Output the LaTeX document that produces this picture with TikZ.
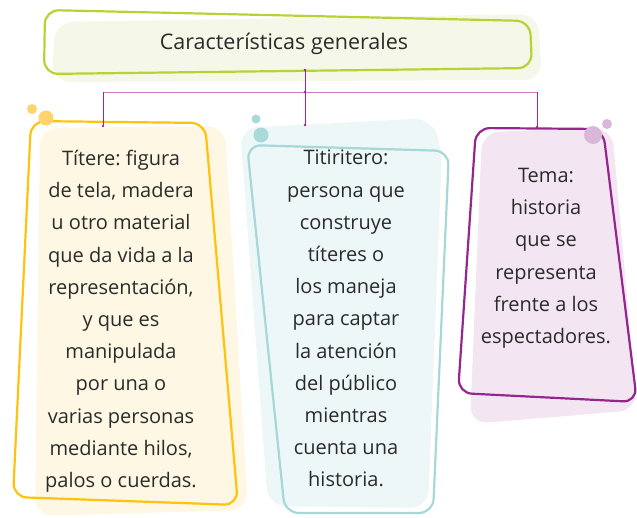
\documentclass[tikz,border=0pt]{standalone}
\usepackage{fontspec}
\setmainfont{Open Sans}
\frenchspacing
\definecolor{ttlline}{HTML}{B5D334}
\definecolor{ttlfill}{HTML}{F5F8E8}
\definecolor{yline}{HTML}{FFC20E}
\definecolor{yfill}{HTML}{FDF7E4}
\definecolor{ydot}{HTML}{FFD46A}
\definecolor{tline}{HTML}{A6D8D8}
\definecolor{tfill}{HTML}{EDF7F8}
\definecolor{tdot}{HTML}{A8DADA}
\definecolor{pline}{HTML}{93278F}
\definecolor{pfill}{HTML}{F3E6F2}
\definecolor{pdot}{HTML}{D8B7DA}
\definecolor{conn}{HTML}{A0288C}
\definecolor{connlight}{HTML}{CC7DBE}
\definecolor{txt}{HTML}{2B2B2B}
\tikzset{
  outline/.style={line width=2.2pt, rounded corners=14pt},
  blob/.style={rounded corners=18pt},
  bodytext/.style={align=center, text=txt, font=\fontsize{20}{32.2}\selectfont, inner sep=0pt},
  link/.style={conn, line width=0.8pt},
}
\begin{document}
\begin{tikzpicture}[x=1pt,y=-1pt]
\useasboundingbox (0,0) rectangle (637,517);
% title
\fill[ttlfill, blob] (55,22) -- (538,14) -- (542,80) -- (52,82) -- cycle;
\draw[ttlline, outline] (45,10) -- (530,21) -- (532,68) -- (44,74) -- cycle;
\node[text=txt, font=\fontsize{21.5}{24}\selectfont] (title) at (284,44) {Características generales};
% yellow box
\fill[yfill, blob] (40,128) -- (225,126) -- (248,510) -- (35,516) -- cycle;
\draw[yline, outline] (31,121) -- (205,123) -- (238,505) -- (13,497) -- cycle;
\fill[ydot] (32,109) circle (5);
\fill[ydot] (46,118) circle (7.5);
% teal box
\fill[tfill, blob] (240,128) -- (432,118) -- (442,150) -- (428,508) -- (268,506) -- cycle;
\draw[tline, outline] (247,145) -- (449,151) -- (433,513) -- (285,513) -- cycle;
\fill[tdot] (256,119) circle (4.5);
\fill[tdot] (261,135) circle (7.5);
% purple box
\fill[pfill, blob] (482,132) -- (612,128) -- (637,410) -- (470,424) -- cycle;
\draw[pline, outline] (476,128) -- (603,129) -- (637,402) -- (458,393) -- cycle;
\fill[pdot] (593,135) circle (9);
\fill[pdot] (607,124) circle (5);
% connector coordinates
\coordinate (top) at (305,70);
\coordinate (mid) at (305,92);
\coordinate (hl) at (103,92);
\coordinate (hr) at (537,92);
\coordinate (ey) at (103,126);
\coordinate (et) at (305,125);
\coordinate (ep) at (537,127);
\draw[link] (top) -- (mid);
\draw[connlight, line width=0.8pt] (hl) -- (hr);
\draw[link] (hl) -- (ey);
\draw[link] (mid) -- (et);
\draw[link] (hr) -- (ep);
\foreach \p in {top,mid,ey,et,ep} \fill[conn] (\p) circle (1.3);
% texts
\node[bodytext, anchor=north] (titere) at (121,150) {Títere: figura\\de tela, madera\\u otro material\\que da vida a la\\representación,\\y que es\\manipulada\\por una o\\varias personas\\mediante hilos,\\palos o cuerdas.};
\node[bodytext, anchor=north] (titiritero) at (346,150) {Titiritero:\\persona que\\construye\\títeres o\\los maneja\\para captar\\la atención\\del público\\mientras\\cuenta una\\historia.};
\node[bodytext, anchor=north] (tema) at (546,168) {Tema:\\historia\\que se\\representa\\frente a los\\espectadores.};
\end{tikzpicture}
\end{document}
